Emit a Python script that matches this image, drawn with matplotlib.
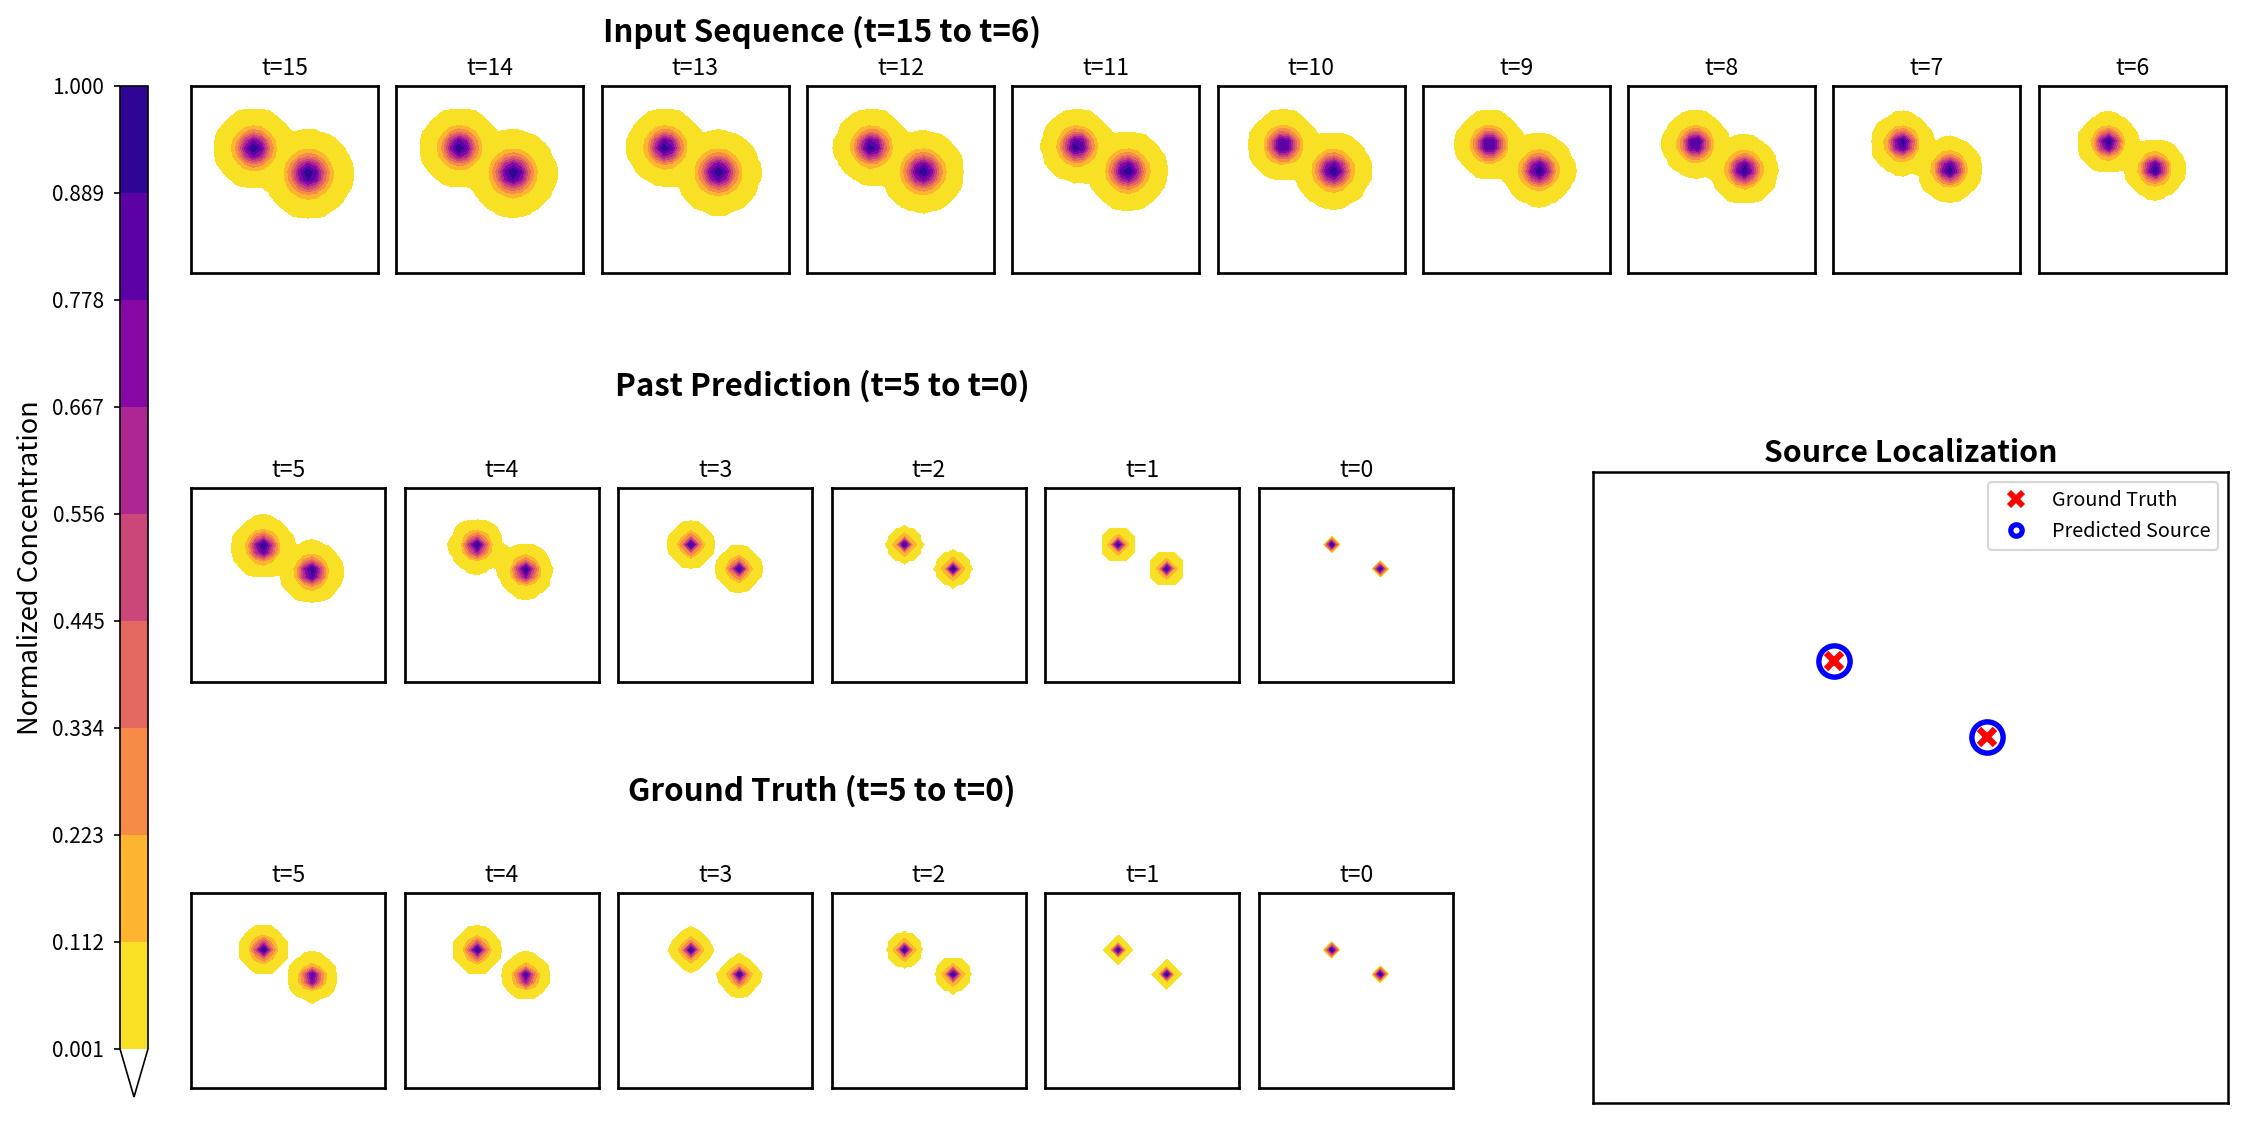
import numpy as np
import matplotlib
matplotlib.use("Agg")
import matplotlib.pyplot as plt
from matplotlib.lines import Line2D

plt.rcParams['font.family'] = ['Noto Sans CJK KR', 'DejaVu Sans']

W, H, DPI = 2252, 1128, 150

# grid and sources
grid_n = 25
true_x = [9, 15]
true_y = [7, 10]
pred_x = [9, 15]
pred_y = [7, 10]

# input frames (t=15..6): plume centres and spreads, in grid cells
input_t = [15, 14, 13, 12, 11, 10, 9, 8, 7, 6]
input_sig1 = [1.34, 1.32, 1.28, 1.25, 1.21, 1.17, 1.13, 1.09, 1.03, 0.98]
input_sig2 = [1.49, 1.46, 1.42, 1.38, 1.32, 1.26, 1.20, 1.13, 1.06, 0.98]
input_x1 = [8.1, 8.15, 8.2, 8.3, 8.35, 8.45, 8.55, 8.65, 8.8, 8.9]
input_y1 = [8.0, 7.9, 7.85, 7.8, 7.7, 7.6, 7.5, 7.45, 7.4, 7.3]
input_x2 = [15.1, 15.0, 15.0, 14.9, 14.8, 14.85, 14.9, 14.9, 14.9, 14.9]
input_y2 = [11.3, 11.2, 11.1, 11.0, 10.9, 10.85, 10.8, 10.75, 10.7, 10.65]

# predicted past frames (t=5..0)
out_t = [5, 4, 3, 2, 1, 0]
pred_sig = [0.98, 0.85, 0.68, 0.56, 0.52, 0.25]
pred_x1 = [8.9, 8.9, 9.0, 9.0, 9.0, 9.0]
pred_y1 = [7.3, 7.15, 7.0, 7.0, 7.0, 7.0]
pred_x2 = [14.9, 14.95, 14.9, 15.0, 15.0, 15.0]
pred_y2 = [10.4, 10.25, 10.0, 10.0, 10.0, 10.0]

# ground truth frames (t=5..0)
gt_sig = [0.75, 0.72, 0.62, 0.55, 0.31, 0.25]
gt_x1 = [8.94, 8.97, 9.0, 9.0, 9.0, 9.0]
gt_y1 = [6.93, 7.0, 7.0, 7.0, 7.0, 7.0]
gt_x2 = [15.0, 15.0, 15.0, 15.0, 15.0, 15.0]
gt_y2 = [10.4, 10.3, 10.15, 10.05, 10.0, 10.0]

levels = np.linspace(0.001, 1.0, 10)

gx = np.arange(grid_n)
X, Y = np.meshgrid(gx, gx)


def field(x1, y1, x2, y2, s1, s2):
    z = (np.exp(-((X - x1)**2 + (Y - y1)**2) / (2 * s1**2)) +
         np.exp(-((X - x2)**2 + (Y - y2)**2) / (2 * s2**2)))
    return z / z.max()


def box(left, top, w, h):
    return [left / W, 1 - (top + h) / H, w / W, h / H]


cmap = plt.get_cmap('plasma_r').copy()
cmap.set_under('white')

fig = plt.figure(figsize=(W / DPI, H / DPI), dpi=DPI)


def panel(rect, z, t):
    ax = fig.add_axes(rect)
    cs = ax.contourf(X, Y, z, levels=levels, cmap=cmap, extend='min')
    ax.set_xlim(0, grid_n - 1)
    ax.set_ylim(grid_n - 1, 0)
    ax.set_xticks([])
    ax.set_yticks([])
    for s in ax.spines.values():
        s.set_linewidth(1.3)
    ax.set_title(f"t={t}", fontsize=11, pad=5.3)
    return cs


for i, t in enumerate(input_t):
    z = field(input_x1[i], input_y1[i], input_x2[i], input_y2[i],
              input_sig1[i], input_sig2[i])
    cs = panel(box(191 + i * 205.3, 86, 187, 187), z, t)

for i, t in enumerate(out_t):
    z = field(pred_x1[i], pred_y1[i], pred_x2[i], pred_y2[i],
              pred_sig[i], pred_sig[i])
    panel(box(191 + i * 213.6, 488, 194, 194), z, t)
    z = field(gt_x1[i], gt_y1[i], gt_x2[i], gt_y2[i], gt_sig[i], gt_sig[i])
    panel(box(191 + i * 213.6, 893, 194, 195), z, t)

fig.text(822 / W, 1 - 32 / H, "Input Sequence (t=15 to t=6)", ha='center',
         va='center', fontsize=15, fontweight='bold')
fig.text(822 / W, 1 - 386 / H, "Past Prediction (t=5 to t=0)", ha='center',
         va='center', fontsize=15, fontweight='bold')
fig.text(822 / W, 1 - 791 / H, "Ground Truth (t=5 to t=0)", ha='center',
         va='center', fontsize=15, fontweight='bold')

# source localization
ax = fig.add_axes(box(1593, 472, 635, 631))
ax.plot(true_x, true_y, 'x', color='red', ms=8, mew=3, zorder=3)
ax.plot(pred_x, pred_y, 'o', mfc='none', mec='blue', ms=15, mew=2.6)
ax.set_xlim(-0.5, grid_n - 0.5)
ax.set_ylim(grid_n - 0.5, -0.5)
ax.set_xticks([])
ax.set_yticks([])
for s in ax.spines.values():
    s.set_linewidth(1.2)
ax.set_title("Source Localization", fontsize=14.5, fontweight='bold', pad=5)
handles = [Line2D([], [], ls='none', marker='x', color='red', ms=7, mew=2.8),
           Line2D([], [], ls='none', marker='o', mfc='none', mec='blue', ms=5.5, mew=2.5)]
ax.legend(handles, ["Ground Truth", "Predicted Source"], loc='upper right', fontsize=9.5)

# colorbar
cax = fig.add_axes(box(120, 86, 28, 1011))
cb = fig.colorbar(cs, cax=cax, ticks=levels, format='%.3f')
cax.yaxis.set_ticks_position('left')
cax.yaxis.set_label_position('left')
cax.tick_params(labelsize=10, length=3, pad=4.5)
cb.set_label("Normalized Concentration", fontsize=13, labelpad=4)

fig.savefig("out.png", dpi=DPI)
